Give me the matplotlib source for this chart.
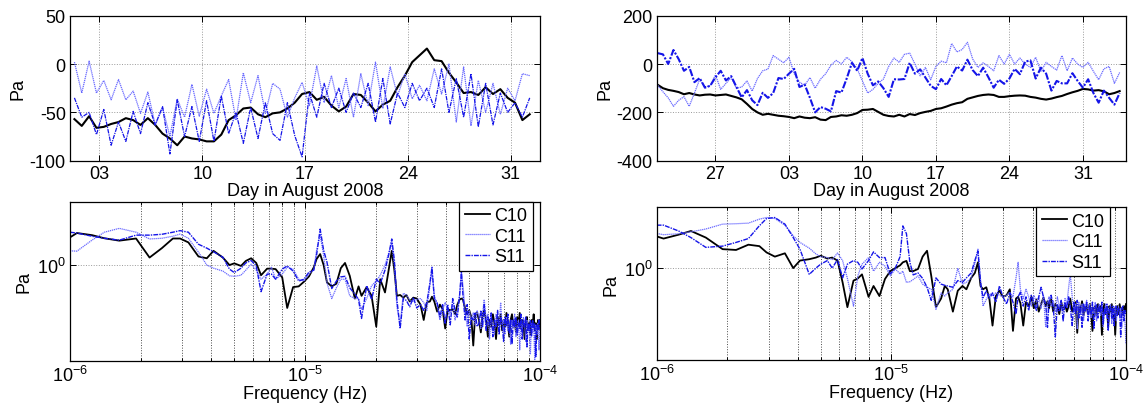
import numpy as np
import matplotlib
matplotlib.use("Agg")
import matplotlib.pyplot as plt
from matplotlib.ticker import LogLocator, NullLocator, NullFormatter

plt.rcParams['font.family'] = ['Liberation Sans', 'DejaVu Sans']
plt.rcParams['mathtext.fontset'] = 'custom'
plt.rcParams['mathtext.rm'] = 'Liberation Sans'
plt.rcParams['mathtext.it'] = 'Liberation Sans:italic'
plt.rcParams['mathtext.bf'] = 'Liberation Sans:bold'
plt.rcParams['axes.unicode_minus'] = False

# ---------------- time series (Pa), sampled every half day ----------------
left_t0 = 1.3          # day of August 2008
left_dt = 0.5
left_c10 = [-57, -64, -54, -66, -65, -62, -60, -56, -58, -63,
            -56, -63, -72, -77, -84, -75, -77, -78, -80, -80,
            -73, -58, -53, -46, -45, -52, -55, -51, -50, -46,
            -40, -31, -29, -37, -34, -43, -49, -44, -31, -32,
            -40, -49, -42, -38, -24, -12, 2, 9, 16, 4,
            3, -9, -19, -30, -29, -32, -24, -31, -26, -35,
            -40, -58, -52]
left_c11 = [2, -30, 3, -30, -17, -37, -16, -37, -28, -51,
            -29, -63, -45, -75, -36, -55, -21, -54, -26, -51,
            -33, -16, -58, -9, -40, -12, -51, -20, -26, -55,
            -35, -19, -43, -2, -40, -12, -45, -15, -55, -10,
            -43, 2, -46, -3, -33, -10, -36, -22, -38, -5,
            -31, 0, -60, -3, -64, -17, -50, -20, -52, -25,
            -38, -10, -12]
left_s11 = [-35, -55, -50, -73, -47, -84, -60, -80, -49, -72,
            -40, -63, -44, -93, -37, -75, -44, -80, -38, -80,
            -33, -72, -50, -82, -45, -77, -40, -72, -79, -40,
            -74, -96, -30, -55, -20, -45, -25, -50, -30, -45,
            -20, -60, -15, -62, -30, -45, -20, -38, -25, -45,
            -5, -50, -15, -55, -10, -65, -20, -63, -30, -50,
            -40, -55, -35]

right_t0 = -9.5        # days relative to 31 July 2008
right_dt = 0.5
right_c10 = [-86, -100, -107, -111, -116, -125, -120, -126, -130, -127,
             -126, -130, -128, -126, -132, -138, -146, -165, -186, -200,
             -210, -206, -210, -214, -216, -219, -224, -217, -222, -224,
             -220, -230, -232, -219, -217, -212, -214, -210, -203, -190,
             -189, -186, -198, -210, -215, -217, -210, -217, -207, -211,
             -203, -198, -194, -186, -183, -176, -168, -162, -158, -144,
             -138, -132, -128, -126, -128, -136, -136, -133, -131, -130,
             -131, -136, -139, -144, -147, -143, -137, -132, -124, -117,
             -111, -103, -105, -110, -108, -113, -125, -120, -112]
right_c11 = [-88, -115, -140, -175, -150, -135, -175, -120, -63, -95,
             -90, -45, -105, -80, -56, -100, -95, -70, -112, -60,
             -28, -21, 35, 20, 5, 28, -40, -75, -88, -56,
             -100, -63, -40, -5, 15, 0, 28, 10, -20, -70,
             -120, -105, -80, -62, -10, 25, 7, 40, 45, 0,
             -49, -14, -65, -10, 12, 5, 85, 50, 60, 90,
             21, -14, 5, -10, -28, 35, 0, 40, 0, 25,
             0, -14, 28, -30, 7, -10, -25, 35, -28, 25,
             0, -14, 7, -30, -65, -20, -10, -80, -35]
right_s11 = [45, 40, 0, 58, 20, -28, -12, -75, -58, -98,
             -90, -55, -28, -68, -50, -95, -138, -108, -150, -170,
             -119, -140, -120, -58, -62, -40, -20, -95, -85, -140,
             -200, -178, -185, -196, -112, -118, -60, 5, -28, 25,
             -40, -88, -72, -100, -136, -63, -64, -62, 5, -40,
             -22, -56, -90, -104, -62, -88, -50, -10, -27, 18,
             -25, -50, -15, -55, -98, -65, -82, -60, -20, -42,
             10, 15, -60, -15, -40, -110, -70, -80, -80, -38,
             -70, -98, -63, -120, -160, -110, -140, -168, -120]

left_day_ticks = [3, 10, 17, 24, 31]
left_day_labels = ['03', '10', '17', '24', '31']
right_day_ticks = [-4, 3, 10, 17, 24, 31]
right_day_labels = ['27', '03', '10', '17', '24', '31']

# ---------------- amplitude spectra (Pa) ----------------
freq_uhz = [1.0, 1.07, 1.24, 1.4, 1.62, 1.91, 2.18, 2.46, 2.74, 2.94,
            3.19, 3.52, 3.82, 4.08, 4.47, 4.77, 5.0, 5.34, 5.6, 5.9,
            6.2, 6.5, 6.9, 7.2, 7.5, 8.0, 8.4, 8.9, 9.4, 9.9,
            10.4, 10.9, 11.2, 11.6, 12.0, 12.4, 13.0, 13.6, 14.2, 14.8,
            15.5, 16.3, 16.9, 17.4, 18.3, 19.2, 20.1, 20.9, 21.9, 22.7,
            23.4, 24.0, 24.6, 25.4, 26.2, 27.0, 27.9, 28.9, 29.9, 31,
            32, 33, 34, 34.7, 35.5, 36.5, 37.5, 38.5, 39.5, 40.5,
            41.5, 42.5, 43.5, 44.5, 45.5, 46.3, 47.0, 48, 49, 50,
            51, 52, 53, 54, 55, 56, 57, 57.9, 59, 60,
            61, 62, 63, 64, 65, 66, 67, 68, 69, 70,
            71, 72, 73, 74, 75, 76, 77, 78, 79, 80,
            81, 82, 83, 84, 85, 86, 87, 88, 89, 90,
            91, 92, 93, 94, 95, 96, 97, 98, 99, 100]

spec_left_c10 = [1.9, 2.1, 2.0, 1.86, 1.76, 1.85, 1.19, 1.48, 1.85, 1.85,
                 1.69, 1.22, 1.17, 1.39, 1.19, 1.0, 1.04, 0.98, 1.1, 1.17,
                 1.05, 0.79, 0.92, 0.92, 0.91, 0.75, 0.37, 0.6, 0.61, 0.68,
                 0.77, 0.95, 1.15, 1.29, 1.0, 0.67, 0.61, 0.65, 0.93, 1.05,
                 0.78, 0.46, 0.61, 0.49, 0.6, 0.49, 0.24, 0.72, 0.53, 0.89,
                 1.39, 0.89, 0.49, 0.5, 0.47, 0.5, 0.43, 0.47, 0.46, 0.40,
                 0.28, 0.42, 0.43, 0.48, 0.43, 0.34, 0.40, 0.36, 0.23, 0.36,
                 0.35, 0.36, 0.32, 0.40, 0.45, 0.46, 0.45, 0.37, 0.32, 0.35,
                 0.30, 0.155, 0.32, 0.33, 0.28, 0.21, 0.32, 0.35, 0.28, 0.19,
                 0.28, 0.24, 0.32, 0.26, 0.18, 0.30, 0.25, 0.32, 0.22, 0.28,
                 0.24, 0.33, 0.26, 0.19, 0.28, 0.32, 0.24, 0.28, 0.21, 0.30,
                 0.25, 0.33, 0.23, 0.28, 0.26, 0.18, 0.28, 0.30, 0.22, 0.26,
                 0.20, 0.28, 0.25, 0.32, 0.22, 0.26, 0.18, 0.28, 0.24, 0.28]
spec_left_c11 = [1.39, 1.38, 1.78, 2.14, 2.34, 2.14, 1.83, 1.86, 1.95, 2.05,
                 1.86, 1.35, 1.0, 0.93, 0.87, 0.78, 0.77, 0.79, 0.89, 1.02,
                 0.89, 0.72, 0.81, 0.95, 0.72, 0.81, 0.95, 0.91, 0.72, 0.69,
                 0.81, 0.89, 1.41, 2.0, 1.26, 0.66, 0.46, 0.59, 0.72, 0.72,
                 0.49, 0.46, 0.46, 0.36, 0.46, 0.62, 0.69, 0.79, 1.0, 1.32,
                 1.66, 1.0, 0.38, 0.25, 0.52, 0.5, 0.44, 0.43, 0.45, 0.46,
                 0.42, 0.35, 0.63, 0.87, 0.5, 0.39, 0.28, 0.35, 0.42, 0.35,
                 0.33, 0.40, 0.28, 0.35, 0.5, 0.83, 0.63, 0.35, 0.24, 0.35,
                 0.28, 0.33, 0.25, 0.35, 0.30, 0.23, 0.33, 0.45, 0.28, 0.32,
                 0.18, 0.30, 0.24, 0.20, 0.32, 0.28, 0.22, 0.42, 0.25, 0.28,
                 0.20, 0.30, 0.22, 0.26, 0.16, 0.28, 0.24, 0.32, 0.19, 0.25,
                 0.28, 0.14, 0.26, 0.22, 0.30, 0.24, 0.17, 0.28, 0.22, 0.25,
                 0.126, 0.26, 0.21, 0.24, 0.112, 0.25, 0.20, 0.26, 0.14, 0.24]
spec_left_s11 = [2.14, 2.1, 1.95, 1.86, 1.78, 2.0, 2.0, 2.04, 2.14, 2.22,
                 2.14, 1.62, 1.48, 1.36, 1.2, 0.91, 0.84, 0.93, 1.05, 1.11,
                 0.98, 0.54, 0.81, 0.81, 0.72, 0.91, 0.98, 0.87, 0.69, 0.72,
                 0.85, 0.89, 1.26, 2.3, 1.41, 1.07, 0.58, 0.69, 0.76, 0.77,
                 0.59, 0.51, 0.45, 0.29, 0.62, 0.45, 0.72, 0.65, 0.89, 1.26,
                 1.83, 1.12, 0.45, 0.23, 0.46, 0.44, 0.38, 0.47, 0.37, 0.40,
                 0.35, 0.42, 0.66, 0.95, 0.46, 0.42, 0.30, 0.40, 0.26, 0.40,
                 0.25, 0.46, 0.35, 0.30, 0.50, 0.85, 0.50, 0.28, 0.40, 0.18,
                 0.30, 0.28, 0.33, 0.24, 0.26, 0.35, 0.24, 0.40, 0.22, 0.30,
                 0.25, 0.33, 0.19, 0.28, 0.24, 0.35, 0.20, 0.30, 0.26, 0.17,
                 0.30, 0.24, 0.32, 0.21, 0.28, 0.16, 0.28, 0.24, 0.30, 0.20,
                 0.26, 0.23, 0.32, 0.18, 0.28, 0.24, 0.30, 0.15, 0.26, 0.22,
                 0.28, 0.19, 0.28, 0.23, 0.26, 0.12, 0.25, 0.22, 0.28, 0.22]

spec_right_c10 = [2.15, 2.04, 2.24, 2.45, 2.09, 1.58, 1.55, 1.76, 1.70, 1.46,
                  1.32, 1.43, 1.0, 1.2, 1.24, 1.29, 1.35, 1.26, 1.29, 1.2,
                  0.71, 0.39, 0.74, 0.78, 0.86, 0.50, 0.65, 0.51, 0.77, 0.93,
                  1.0, 1.07, 1.15, 1.19, 0.93, 0.93, 0.98, 1.32, 1.52, 0.83,
                  0.39, 0.48, 0.65, 0.60, 0.35, 0.58, 0.65, 0.60, 0.79, 0.89,
                  1.15, 0.65, 0.60, 0.63, 0.47, 0.25, 0.51, 0.58, 0.50, 0.52,
                  0.60, 0.22, 0.48, 0.50, 0.43, 0.25, 0.44, 0.40, 0.50, 0.38,
                  0.47, 0.35, 0.42, 0.49, 0.40, 0.45, 0.38, 0.47, 0.35, 0.42,
                  0.40, 0.33, 0.44, 0.36, 0.42, 0.35, 0.40, 0.48, 0.35, 0.40,
                  0.44, 0.21, 0.40, 0.36, 0.45, 0.32, 0.38, 0.40, 0.33, 0.42,
                  0.36, 0.22, 0.38, 0.40, 0.32, 0.42, 0.35, 0.40, 0.20, 0.38,
                  0.42, 0.33, 0.38, 0.24, 0.40, 0.35, 0.42, 0.30, 0.38, 0.20,
                  0.36, 0.40, 0.33, 0.42, 0.35, 0.38, 0.32, 0.40, 0.36, 0.42]
spec_right_c11 = [2.31, 2.24, 2.29, 2.4, 2.57, 2.89, 2.92, 2.96, 3.26, 3.39,
                  3.31, 2.82, 2.18, 1.86, 1.62, 1.41, 1.32, 1.29, 1.23, 1.44,
                  1.2, 0.78, 0.40, 0.83, 1.1, 1.29, 0.93, 1.15, 1.05, 0.83,
                  0.98, 0.87, 0.93, 0.71, 0.72, 0.76, 0.83, 0.68, 0.63, 0.60,
                  0.37, 0.55, 0.51, 0.55, 0.60, 1.0, 0.68, 0.71, 0.79, 1.12,
                  1.58, 0.76, 0.40, 0.47, 0.54, 0.52, 0.55, 0.52, 0.50, 0.52,
                  0.56, 0.50, 0.79, 1.15, 0.60, 0.48, 0.60, 0.50, 0.40, 0.52,
                  0.44, 0.50, 0.38, 0.52, 0.24, 0.44, 0.50, 0.40, 0.46, 0.35,
                  0.50, 0.40, 0.44, 0.36, 0.48, 0.42, 0.63, 0.87, 0.50, 0.35,
                  0.42, 0.23, 0.44, 0.33, 0.42, 0.28, 0.40, 0.46, 0.35, 0.42,
                  0.30, 0.40, 0.33, 0.44, 0.28, 0.38, 0.42, 0.32, 0.40, 0.24,
                  0.36, 0.42, 0.30, 0.38, 0.35, 0.42, 0.26, 0.38, 0.33, 0.40,
                  0.28, 0.36, 0.40, 0.32, 0.38, 0.24, 0.35, 0.36, 0.28, 0.16]
spec_right_s11 = [2.82, 2.82, 2.45, 2.09, 1.65, 1.70, 1.86, 2.04, 2.78, 3.31,
                  3.39, 2.89, 2.09, 1.58, 0.86, 1.0, 1.1, 1.2, 1.0, 1.23,
                  0.79, 1.1, 1.2, 1.15, 0.98, 1.2, 1.48, 1.29, 1.29, 0.87,
                  1.0, 1.32, 2.77, 2.3, 1.15, 0.85, 0.89, 0.78, 0.63, 0.46,
                  0.79, 0.68, 0.66, 0.65, 0.63, 0.74, 0.71, 0.79, 0.89, 1.2,
                  1.51, 0.71, 0.49, 0.58, 0.48, 0.55, 0.44, 0.65, 0.50, 0.42,
                  0.55, 0.44, 0.33, 0.50, 0.56, 0.40, 0.50, 0.36, 0.52, 0.44,
                  0.36, 0.50, 0.63, 0.50, 0.42, 0.24, 0.44, 0.52, 0.40, 0.19,
                  0.42, 0.35, 0.46, 0.28, 0.44, 0.38, 0.50, 0.40, 0.25, 0.44,
                  0.33, 0.46, 0.30, 0.40, 0.24, 0.42, 0.35, 0.44, 0.28, 0.40,
                  0.33, 0.44, 0.23, 0.38, 0.42, 0.30, 0.40, 0.35, 0.44, 0.26,
                  0.38, 0.33, 0.42, 0.22, 0.38, 0.40, 0.30, 0.40, 0.25, 0.36,
                  0.40, 0.32, 0.38, 0.35, 0.19, 0.38, 0.40, 0.28, 0.36, 0.32]

series_names = ['C10', 'C11', 'S11']

# ---------------- styling ----------------
FS = 13
COL = {'C10': 'black', 'C11': '#6a6aff', 'S11': '#1515e8'}
LS = {'C10': '-', 'C11': (0, (1.0, 0.6)), 'S11': (0, (3.5, 0.8, 1.0, 0.8))}

fig = plt.figure(figsize=(11.46, 4.10), dpi=100)
ax_tl = fig.add_axes([0.0611, 0.6056, 0.4101, 0.3537])
ax_tr = fig.add_axes([0.5730, 0.6056, 0.4095, 0.3537])
ax_bl = fig.add_axes([0.0611, 0.1178, 0.4101, 0.3878])
ax_br = fig.add_axes([0.5730, 0.1195, 0.4095, 0.3725])


def base_style(ax):
    ax.tick_params(which='both', direction='in', top=True, right=True,
                   labelsize=FS, width=0.7)
    ax.tick_params(which='major', length=4, pad=3)
    ax.tick_params(which='minor', length=2)
    for s in ax.spines.values():
        s.set_linewidth(0.9)


def time_panel(ax, t0, dt, data, lws, ticks, labels, xlim, yticks, ylim, label_x):
    for name, vals, lw in zip(series_names, data, lws):
        t = t0 + dt * np.arange(len(vals))
        ax.plot(t, vals, color=COL[name], linestyle=LS[name], lw=lw)
    ax.set_xlim(*xlim)
    ax.set_ylim(*ylim)
    ax.set_xticks(ticks, labels=labels)
    ax.set_yticks(yticks, labels=[str(v) for v in yticks])
    ax.grid(True, linestyle=':', color='#9a9a9a', lw=0.7)
    ax.set_axisbelow(True)
    base_style(ax)
    ax.set_xlabel('Day in August 2008', fontsize=FS, labelpad=0)
    ax.set_ylabel('Pa', fontsize=FS)
    ax.yaxis.set_label_coords(label_x, 0.5)


def spec_panel(ax, data, lws, leg_x, label_x):
    f = np.asarray(freq_uhz) * 1e-6
    for name, vals, lw in zip(series_names, data, lws):
        n = min(len(f), len(vals))
        ax.plot(f[:n], vals[:n], color=COL[name], linestyle=LS[name], lw=lw,
                label=name)
    ax.set_xscale('log')
    ax.set_yscale('log')
    ax.set_xlim(1e-6, 1e-4)
    ax.set_ylim(0.109, 4.34)
    ax.xaxis.set_major_locator(LogLocator(base=10))
    ax.xaxis.set_minor_locator(LogLocator(base=10, subs=range(2, 10)))
    ax.xaxis.set_minor_formatter(NullFormatter())
    ax.yaxis.set_major_locator(LogLocator(base=10))
    ax.yaxis.set_minor_locator(NullLocator())
    ax.grid(True, which='both', axis='x', linestyle=':', color='#4a4a4a', lw=0.7)
    ax.grid(True, which='major', axis='y', linestyle=':', color='#9a9a9a', lw=0.7)
    ax.set_axisbelow(True)
    base_style(ax)
    ax.set_xlabel('Frequency (Hz)', fontsize=FS, labelpad=0)
    ax.set_ylabel('Pa', fontsize=FS)
    ax.yaxis.set_label_coords(label_x, 0.5)
    leg = ax.legend(loc='upper right', bbox_to_anchor=(leg_x, 1.0),
                    borderaxespad=0, fontsize=FS, handlelength=1.4,
                    handletextpad=0.25, labelspacing=0.2, borderpad=0.3,
                    fancybox=False, framealpha=1, edgecolor='black')
    leg.get_frame().set_linewidth(0.9)


time_panel(ax_tl, left_t0, left_dt, [left_c10, left_c11, left_s11],
           [1.5, 0.9, 0.9], left_day_ticks, left_day_labels,
           (1.0, 33.0), [-100, -50, 0, 50], (-100, 50), -0.092)
time_panel(ax_tr, right_t0, right_dt, [right_c10, right_c11, right_s11],
           [1.5, 0.9, 1.5], right_day_ticks, right_day_labels,
           (-9.6, 35.1), [-400, -200, 0, 200], (-400, 200), -0.092)
spec_panel(ax_bl, [spec_left_c10, spec_left_c11, spec_left_s11],
           [1.3, 0.9, 1.0], 0.985, -0.08)
spec_panel(ax_br, [spec_right_c10, spec_right_c11, spec_right_s11],
           [1.3, 0.9, 1.0], 0.966, -0.08)

fig.savefig('out.png', dpi=100)
